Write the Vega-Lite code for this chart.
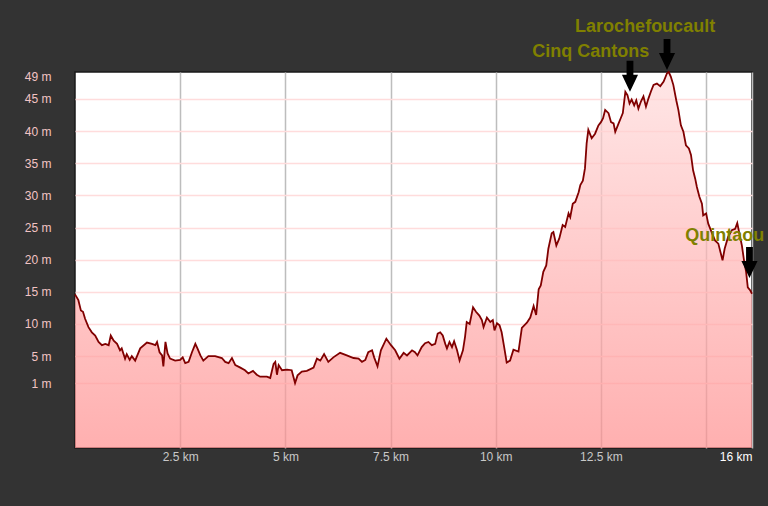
{
  "$schema": "https://vega.github.io/schema/vega-lite/v6.json",
  "width": 677,
  "height": 376,
  "autosize": {"type": "none"},
  "padding": {"left": 75, "top": 72, "right": 16, "bottom": 58},
  "background": "#333333",
  "config": {
    "view": {"fill": "white", "stroke": "#1a1a1a", "strokeWidth": 1.5},
    "font": "Liberation Sans"
  },
  "datasets": {
    "profile": [
      {"km": 0, "elev": 14.6}, {"km": 0.08, "elev": 13.7}, {"km": 0.14, "elev": 12.1}, {"km": 0.19, "elev": 11.9},
      {"km": 0.24, "elev": 10.8}, {"km": 0.32, "elev": 9.5}, {"km": 0.40, "elev": 8.7}, {"km": 0.48, "elev": 8.2},
      {"km": 0.56, "elev": 7.2}, {"km": 0.64, "elev": 6.7}, {"km": 0.72, "elev": 6.9}, {"km": 0.80, "elev": 6.7},
      {"km": 0.85, "elev": 8.2}, {"km": 0.92, "elev": 7.4}, {"km": 1.00, "elev": 6.9}, {"km": 1.07, "elev": 5.9},
      {"km": 1.11, "elev": 6.2}, {"km": 1.19, "elev": 4.6}, {"km": 1.23, "elev": 5.3}, {"km": 1.30, "elev": 4.4},
      {"km": 1.35, "elev": 5.0}, {"km": 1.43, "elev": 4.3}, {"km": 1.55, "elev": 6.2}, {"km": 1.71, "elev": 7.1},
      {"km": 1.83, "elev": 6.9}, {"km": 1.91, "elev": 6.7}, {"km": 1.95, "elev": 7.2}, {"km": 2.01, "elev": 5.6},
      {"km": 2.07, "elev": 5.1}, {"km": 2.10, "elev": 3.4}, {"km": 2.15, "elev": 7.2}, {"km": 2.20, "elev": 5.4},
      {"km": 2.26, "elev": 4.6}, {"km": 2.38, "elev": 4.3}, {"km": 2.50, "elev": 4.4}, {"km": 2.56, "elev": 4.8},
      {"km": 2.62, "elev": 3.9}, {"km": 2.70, "elev": 4.1}, {"km": 2.78, "elev": 5.6}, {"km": 2.86, "elev": 6.9},
      {"km": 2.91, "elev": 6.2}, {"km": 2.98, "elev": 5.1}, {"km": 3.05, "elev": 4.3}, {"km": 3.17, "elev": 5.0},
      {"km": 3.33, "elev": 5.0}, {"km": 3.49, "elev": 4.7}, {"km": 3.57, "elev": 4.1}, {"km": 3.65, "elev": 3.9},
      {"km": 3.73, "elev": 4.7}, {"km": 3.81, "elev": 3.6}, {"km": 3.93, "elev": 3.2}, {"km": 4.04, "elev": 2.8},
      {"km": 4.12, "elev": 2.3}, {"km": 4.23, "elev": 2.7}, {"km": 4.32, "elev": 2.1}, {"km": 4.40, "elev": 1.8},
      {"km": 4.56, "elev": 1.8}, {"km": 4.64, "elev": 1.6}, {"km": 4.72, "elev": 3.8}, {"km": 4.76, "elev": 4.1},
      {"km": 4.80, "elev": 2.1}, {"km": 4.84, "elev": 3.6}, {"km": 4.92, "elev": 2.8}, {"km": 5.04, "elev": 2.9},
      {"km": 5.15, "elev": 2.8}, {"km": 5.23, "elev": 0.8}, {"km": 5.29, "elev": 2.0}, {"km": 5.39, "elev": 2.6},
      {"km": 5.51, "elev": 2.7}, {"km": 5.67, "elev": 3.2}, {"km": 5.75, "elev": 4.6}, {"km": 5.83, "elev": 4.3},
      {"km": 5.92, "elev": 5.3}, {"km": 6.02, "elev": 4.1}, {"km": 6.14, "elev": 4.8}, {"km": 6.30, "elev": 5.5},
      {"km": 6.46, "elev": 5.1}, {"km": 6.62, "elev": 4.7}, {"km": 6.74, "elev": 4.6}, {"km": 6.82, "elev": 4.1},
      {"km": 6.90, "elev": 4.4}, {"km": 6.97, "elev": 5.6}, {"km": 7.06, "elev": 5.9}, {"km": 7.11, "elev": 4.8},
      {"km": 7.19, "elev": 3.4}, {"km": 7.27, "elev": 5.9}, {"km": 7.40, "elev": 7.7}, {"km": 7.51, "elev": 6.7},
      {"km": 7.61, "elev": 5.9}, {"km": 7.71, "elev": 4.6}, {"km": 7.81, "elev": 5.5}, {"km": 7.89, "elev": 5.1},
      {"km": 8.01, "elev": 5.9}, {"km": 8.08, "elev": 5.6}, {"km": 8.14, "elev": 5.1}, {"km": 8.24, "elev": 6.4},
      {"km": 8.32, "elev": 7.0}, {"km": 8.40, "elev": 7.2}, {"km": 8.48, "elev": 6.7}, {"km": 8.56, "elev": 6.9},
      {"km": 8.62, "elev": 8.5}, {"km": 8.68, "elev": 8.7}, {"km": 8.74, "elev": 8.2}, {"km": 8.80, "elev": 6.9},
      {"km": 8.84, "elev": 6.2}, {"km": 8.90, "elev": 7.2}, {"km": 8.96, "elev": 6.4}, {"km": 9.01, "elev": 7.3},
      {"km": 9.08, "elev": 5.9}, {"km": 9.14, "elev": 4.3}, {"km": 9.22, "elev": 5.9}, {"km": 9.27, "elev": 8.0},
      {"km": 9.31, "elev": 10.3}, {"km": 9.38, "elev": 10.0}, {"km": 9.46, "elev": 12.6}, {"km": 9.53, "elev": 11.9},
      {"km": 9.61, "elev": 11.3}, {"km": 9.67, "elev": 10.6}, {"km": 9.71, "elev": 9.5}, {"km": 9.79, "elev": 11.0},
      {"km": 9.87, "elev": 10.3}, {"km": 9.93, "elev": 10.6}, {"km": 9.97, "elev": 9.0}, {"km": 10.03, "elev": 10.1},
      {"km": 10.09, "elev": 9.8}, {"km": 10.14, "elev": 8.7}, {"km": 10.20, "elev": 6.4}, {"km": 10.26, "elev": 4.0},
      {"km": 10.34, "elev": 4.3}, {"km": 10.42, "elev": 6.0}, {"km": 10.54, "elev": 5.7}, {"km": 10.62, "elev": 9.4},
      {"km": 10.74, "elev": 10.2}, {"km": 10.82, "elev": 11.0}, {"km": 10.90, "elev": 12.8}, {"km": 10.96, "elev": 11.4},
      {"km": 11.02, "elev": 15.4}, {"km": 11.07, "elev": 16.0}, {"km": 11.13, "elev": 18.1}, {"km": 11.20, "elev": 19.1},
      {"km": 11.25, "elev": 21.7}, {"km": 11.33, "elev": 24.1}, {"km": 11.37, "elev": 24.3}, {"km": 11.44, "elev": 22.2},
      {"km": 11.51, "elev": 23.3}, {"km": 11.59, "elev": 25.4}, {"km": 11.65, "elev": 25.1}, {"km": 11.73, "elev": 27.2},
      {"km": 11.77, "elev": 26.6}, {"km": 11.83, "elev": 28.7}, {"km": 11.89, "elev": 29.0}, {"km": 11.97, "elev": 30.5},
      {"km": 12.01, "elev": 31.6}, {"km": 12.07, "elev": 32.3}, {"km": 12.12, "elev": 34.2}, {"km": 12.16, "elev": 38.1},
      {"km": 12.20, "elev": 40.2}, {"km": 12.28, "elev": 38.9}, {"km": 12.36, "elev": 39.6}, {"km": 12.44, "elev": 40.9},
      {"km": 12.50, "elev": 41.4}, {"km": 12.55, "elev": 42.0}, {"km": 12.60, "elev": 43.3}, {"km": 12.68, "elev": 42.8},
      {"km": 12.74, "elev": 41.4}, {"km": 12.80, "elev": 41.2}, {"km": 12.84, "elev": 39.9}, {"km": 12.92, "elev": 41.2},
      {"km": 12.97, "elev": 42.0}, {"km": 13.02, "elev": 42.8}, {"km": 13.08, "elev": 46.1}, {"km": 13.13, "elev": 45.6},
      {"km": 13.18, "elev": 44.3}, {"km": 13.23, "elev": 44.9}, {"km": 13.29, "elev": 44.0}, {"km": 13.34, "elev": 44.8},
      {"km": 13.39, "elev": 43.5}, {"km": 13.45, "elev": 44.6}, {"km": 13.51, "elev": 45.4}, {"km": 13.57, "elev": 43.8},
      {"km": 13.63, "elev": 45.1}, {"km": 13.69, "elev": 46.2}, {"km": 13.75, "elev": 47.2}, {"km": 13.83, "elev": 47.4},
      {"km": 13.91, "elev": 47.0}, {"km": 13.99, "elev": 47.7}, {"km": 14.07, "elev": 49.0}, {"km": 14.11, "elev": 49.2},
      {"km": 14.16, "elev": 48.5}, {"km": 14.22, "elev": 47.2}, {"km": 14.29, "elev": 44.8}, {"km": 14.34, "elev": 43.3},
      {"km": 14.40, "elev": 40.9}, {"km": 14.46, "elev": 39.9}, {"km": 14.52, "elev": 37.8}, {"km": 14.59, "elev": 37.3},
      {"km": 14.64, "elev": 36.3}, {"km": 14.69, "elev": 33.9}, {"km": 14.74, "elev": 32.6}, {"km": 14.78, "elev": 31.3},
      {"km": 14.84, "elev": 29.8}, {"km": 14.90, "elev": 28.7}, {"km": 14.93, "elev": 26.9}, {"km": 15.00, "elev": 27.2},
      {"km": 15.05, "elev": 25.6}, {"km": 15.13, "elev": 24.3}, {"km": 15.21, "elev": 23.0}, {"km": 15.29, "elev": 22.5},
      {"km": 15.34, "elev": 21.2}, {"km": 15.39, "elev": 19.9}, {"km": 15.44, "elev": 21.7}, {"km": 15.52, "elev": 23.5},
      {"km": 15.61, "elev": 24.6}, {"km": 15.69, "elev": 24.8}, {"km": 15.74, "elev": 25.7}, {"km": 15.79, "elev": 24.1},
      {"km": 15.85, "elev": 22.2}, {"km": 15.90, "elev": 19.9}, {"km": 15.95, "elev": 18.1}, {"km": 15.99, "elev": 15.7},
      {"km": 16.05, "elev": 15.2}, {"km": 16.09, "elev": 14.7}
    ],
    "places": [
      {"name": "Larochefoucault", "km": 14.07, "elev": 49.5, "lkm": 13.55, "lelev": 55.35},
      {"name": "Cinq Cantons", "km": 13.19, "elev": 46.13, "lkm": 12.26, "lelev": 51.58},
      {"name": "Quintaou", "km": 16.03, "elev": 17.15, "lkm": 15.44, "lelev": 22.83}
    ]
  },
  "layer": [
    {
      "data": {"name": "profile"},
      "mark": {
        "type": "area",
        "fillOpacity": 0.7,
        "color": {
          "gradient": "linear", "x1": 0, "y1": 0, "x2": 0, "y2": 1,
          "stops": [{"offset": 0, "color": "#ffdcdc"}, {"offset": 1, "color": "#ff8e8e"}]
        }
      },
      "encoding": {
        "x": {
          "field": "km", "type": "quantitative",
          "scale": {"domain": [0, 16.09], "nice": false, "zero": false},
          "axis": {
            "title": null, "domain": false, "ticks": false, "tickCount": 30,
            "values": [2.5, 5, 7.5, 10, 12.5, 15, 16.09],
            "labelExpr": "datum.value > 16 ? format(datum.value, '.0f') + ' km' : (datum.value == 15 ? '' : format(datum.value, '~g') + ' km')",
            "labelFont": "Liberation Sans", "labelFontSize": 12,
            "labelColor": {"condition": {"test": "datum.value > 16", "value": "#ffffff"}, "value": "#c8c8c8"},
            "labelAlign": {"condition": {"test": "datum.value > 16", "value": "right"}, "value": "center"},
            "labelPadding": 3, "labelFlush": false, "labelOverlap": false,
            "gridColor": "#bdbdbd", "gridWidth": 1.5
          }
        },
        "y": {
          "field": "elev", "type": "quantitative",
          "scale": {"domain": [-9.3, 49.2], "nice": false, "zero": false},
          "axis": {
            "title": null, "domain": false, "ticks": false, "tickCount": 30,
            "values": [0.76, 5, 10, 15, 20, 25, 30, 35, 40, 45, 48.5],
            "labelExpr": "(datum.value > 48 ? '49' : datum.value < 1 ? '1' : format(datum.value, '.0f')) + ' m'",
            "labelFont": "Liberation Sans", "labelFontSize": 12,
            "labelColor": "#f2c4c4", "labelPadding": 24, "labelOverlap": false,
            "gridColor": {"condition": {"test": "datum.value > 48", "value": "transparent"}, "value": "#ffdcdc"},
            "gridWidth": 1.5
          }
        },
        "y2": {"datum": -9.3}
      }
    },
    {
      "data": {"name": "profile"},
      "mark": {"type": "line", "color": "#800000", "strokeWidth": 1.8},
      "encoding": {
        "x": {"field": "km", "type": "quantitative"},
        "y": {"field": "elev", "type": "quantitative"}
      }
    },
    {
      "data": {"name": "places"},
      "mark": {
        "type": "point",
        "shape": "M-0.22,-2 L0.22,-2 L0.22,-1.1 L0.52,-1.1 L0,0 L-0.52,-1.1 L-0.22,-1.1 Z",
        "size": 961, "filled": true, "color": "#000000", "opacity": 1, "strokeWidth": 0
      },
      "encoding": {
        "x": {"field": "km", "type": "quantitative"},
        "y": {"field": "elev", "type": "quantitative"}
      }
    },
    {
      "data": {"name": "places"},
      "mark": {
        "type": "text", "font": "Liberation Sans", "fontWeight": "bold", "fontSize": 18,
        "color": "#808000", "align": "center", "baseline": "alphabetic"
      },
      "encoding": {
        "x": {"field": "lkm", "type": "quantitative"},
        "y": {"field": "lelev", "type": "quantitative"},
        "text": {"field": "name"}
      }
    }
  ]
}
